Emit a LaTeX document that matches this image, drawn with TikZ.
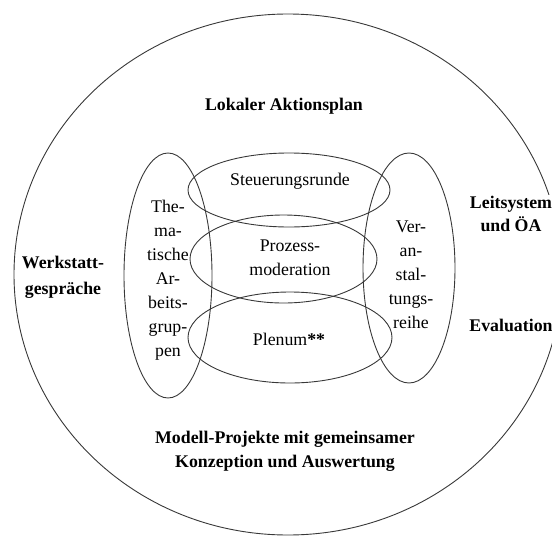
\documentclass[tikz,border=0pt]{standalone}
\usepackage{fontspec}
\setmainfont{Liberation Serif}
\begin{document}
\begin{tikzpicture}[x=1pt,y=-1pt,
  ring/.style={draw=black!78, line width=0.9pt},
  lbl/.style={inner sep=0pt, align=center, font=\fontsize{17.8}{24}\selectfont},
  blbl/.style={lbl, font=\fontsize{17.8}{24}\selectfont\bfseries}]
\useasboundingbox (0,0) rectangle (552,536);
% ellipses
\draw[ring] (288,274.5) ellipse [x radius=274, y radius=260.5];
\draw[ring] (168,275.5) ellipse [x radius=44, y radius=122.5];
\draw[ring] (409,268) ellipse [x radius=46, y radius=115];
\draw[ring] (289,190) ellipse [x radius=101, y radius=37];
\draw[ring] (283.5,259) ellipse [x radius=93.5, y radius=44];
\draw[ring] (290,337.5) ellipse [x radius=102, y radius=45.5];
% texts
\node[blbl] (lap) at (284,106) {Lokaler Aktionsplan};
\node[lbl] (steu) at (290,181) {Steuerungsrunde};
\node[lbl, font=\fontsize{17.8}{24}\selectfont] (proz) at (290,258) {Prozess-\\moderation};
\node[lbl] (plen) at (289,339) {Plenum\textbf{**}};
\node[lbl] (them) at (168,280) {The-\\ma-\\tische\\Ar-\\beits-\\grup-\\pen};
\node[lbl] (vera) at (411,275) {Ver-\\an-\\stal-\\tungs-\\reihe};
\node[blbl, font=\fontsize{17.8}{26}\selectfont\bfseries] (werk) at (63,277) {Werkstatt-\\gespräche};
\node[blbl, fill=white, inner sep=1pt, font=\fontsize{17.8}{23}\selectfont\bfseries] (leit) at (511,214) {Leitsystem\\und ÖA};
\node[blbl] (eval) at (511,325) {Evaluation};
\node[blbl] (mod) at (285,451) {Modell-Projekte mit gemeinsamer\\Konzeption und Auswertung};
\end{tikzpicture}
\end{document}
